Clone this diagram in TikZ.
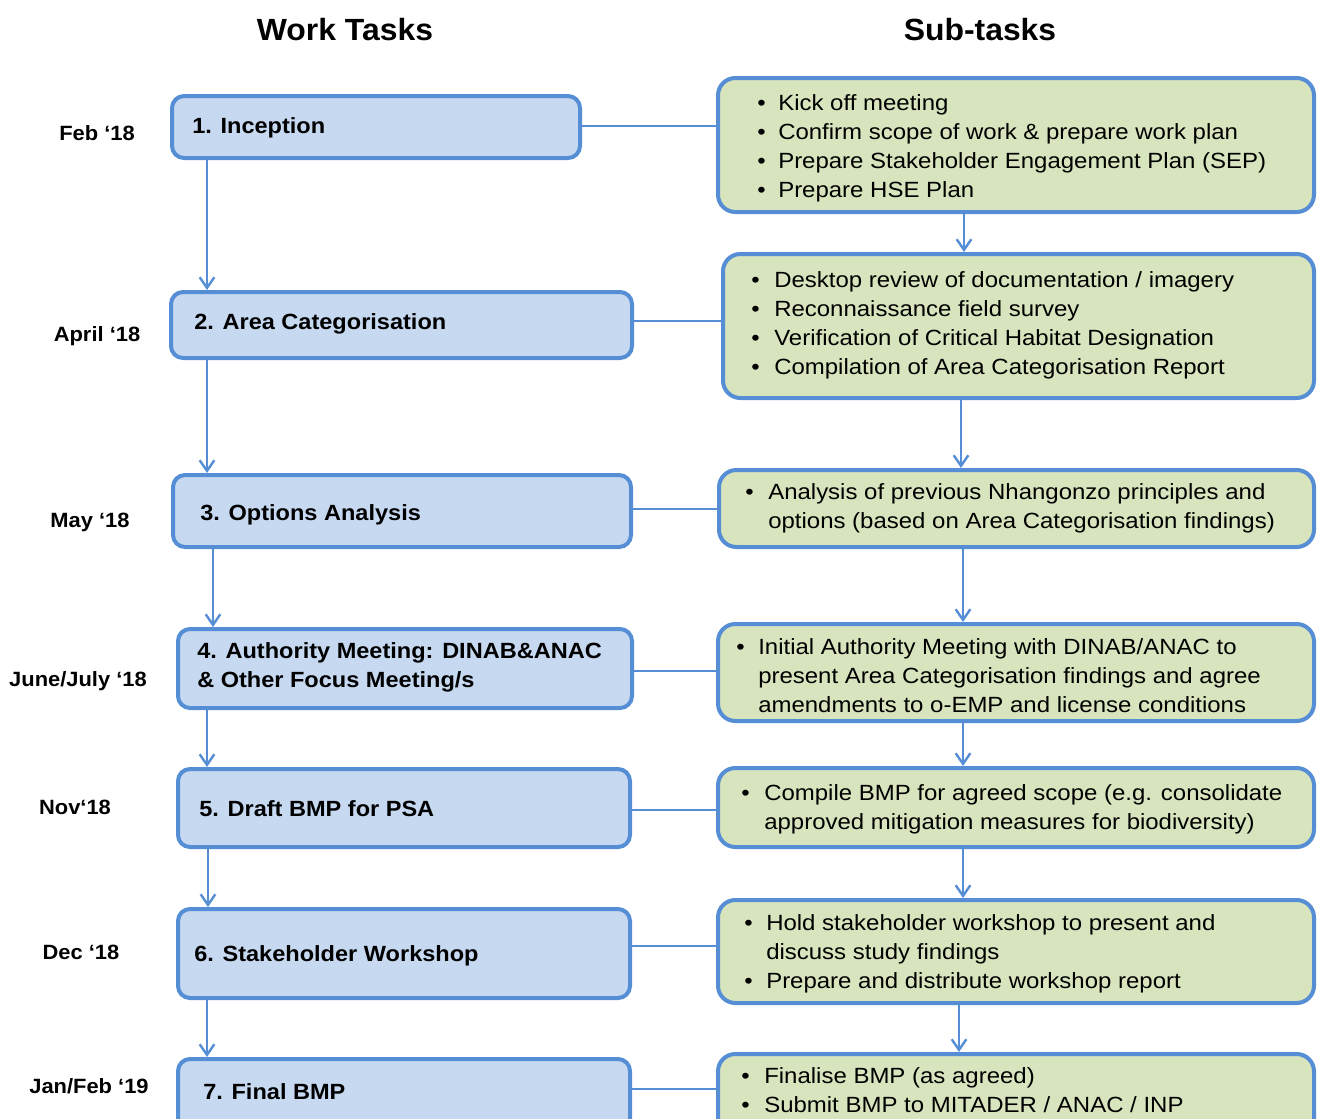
\documentclass[tikz,border=0pt]{standalone}
\usepackage{fontspec}
\setmainfont{Liberation Sans}
\newfontfamily\subfont{Liberation Sans}[FakeStretch=1.09]
\newfontfamily\taskfont{Liberation Sans}[FakeStretch=1.07]
\newfontfamily\datefont{Liberation Sans}[FakeStretch=1.06]
\newfontfamily\headfont{Liberation Sans}[FakeStretch=1.04]
\usetikzlibrary{arrows.meta,fit}
\definecolor{bord}{RGB}{85,142,213}
\definecolor{lfill}{RGB}{198,217,241}
\definecolor{rfill}{RGB}{215,228,189}
\tikzset{
 lbox/.style={draw=bord, fill=lfill, line width=3pt, rounded corners=9pt, inner sep=0pt},
 rbox/.style={draw=bord, fill=rfill, line width=3pt, rounded corners=13pt, inner sep=0pt},
 conn/.style={draw=bord, line width=1.8pt},
 arr/.style={conn, -{Straight Barb[length=8pt,width=11pt,line width=1.8pt]}},
 tasktext/.style={anchor=west, inner sep=0pt, align=left, yshift=-2.25pt, font=\taskfont\fontsize{16.5}{21.75}\selectfont\bfseries},
 datetext/.style={inner sep=0pt, font=\datefont\fontsize{15.5}{18}\selectfont\bfseries},
 headtext/.style={inner sep=0pt, font=\headfont\fontsize{23}{28}\selectfont\bfseries},
 subtext/.style={anchor=west, inner sep=0pt, yshift=-2.25pt, font=\subfont\fontsize{16.5}{21.75}\selectfont},
}
\newcommand{\bl}{\textbullet}
\begin{document}
\begin{tikzpicture}[x=0.75pt,y=-0.75pt]
\useasboundingbox (0,0) rectangle (1317,1118);
\clip (0,0) rectangle (1317,1118);
\fill[white] (0,0) rectangle (1317,1118);

% headings
\node[headtext] (hw) at (345,30) {Work Tasks};
\node[headtext] (hs) at (980,30) {Sub-tasks};

% dates
\node[datetext] (d1) at (97,133) {Feb ‘18};
\node[datetext] (d2) at (97,336) {April ‘18};
\node[datetext] (d3) at (90,522) {May ‘18};
\node[datetext] (d4) at (78,681) {June/July ‘18};
\node[datetext] (d5) at (75,807) {Nov‘18};
\node[datetext] (d6) at (81,952) {Dec ‘18};
\node[datetext] (d7) at (89,1086) {Jan/Feb ‘19};

% left boxes
\node[lbox, fit={(172,96) (580,158)}] (t1) {};
\node[lbox, fit={(171,292) (632,358)}] (t2) {};
\node[lbox, fit={(173,475) (631,547)}] (t3) {};
\node[lbox, fit={(178,629) (632,708)}] (t4) {};
\node[lbox, fit={(178,769) (630,847)}] (t5) {};
\node[lbox, fit={(178,909) (630,998)}] (t6) {};
\node[lbox, fit={(178,1059) (630,1140)}] (t7) {};

\node[tasktext] (tt1) at (192,125) {1. Inception};
\node[tasktext] (tt2) at (194,321) {2. Area Categorisation};
\node[tasktext] (tt3) at (200,512) {3. Options Analysis};
\node[tasktext] (tt4) at (197,664.5) {4. Authority  Meeting: DINAB\&ANAC\\\& Other Focus Meeting/s};
\node[tasktext] (tt5) at (199,806) {5. Draft BMP for PSA};
\node[tasktext] (tt6) at (194,953) {6. Stakeholder Workshop};
\node[tasktext] (tt7) at (203,1089) {7. Final BMP};

% right boxes
\node[rbox, fit={(718,78) (1314,212)}] (s1) {};
\node[rbox, fit={(723,254) (1314,398)}] (s2) {};
\node[rbox, fit={(719,470) (1314,547)}] (s3) {};
\node[rbox, fit={(718,624) (1314,721)}] (s4) {};
\node[rbox, fit={(718,768) (1314,847)}] (s5) {};
\node[rbox, fit={(718,900) (1314,1003)}] (s6) {};
\node[rbox, fit={(718,1054) (1314,1140)}] (s7) {};

\node[subtext] (st1) at (757,145.5) {\begin{tabular}{@{}p{15.75pt}@{}l@{}}
\bl & Kick off meeting\\
\bl & Confirm scope of work \& prepare work plan\\
\bl & Prepare Stakeholder Engagement Plan (SEP)\\
\bl & Prepare HSE Plan
\end{tabular}};
\node[subtext] (st2) at (751,322) {\begin{tabular}{@{}p{17.25pt}@{}l@{}}
\bl & Desktop review of documentation / imagery\\
\bl & Reconnaissance field survey\\
\bl & Verification of Critical Habitat Designation\\
\bl & Compilation of Area Categorisation Report
\end{tabular}};
\node[subtext] (st3) at (745,505) {\begin{tabular}{@{}p{17.25pt}@{}l@{}}
\bl & Analysis of previous Nhangonzo principles and\\
 & options (based on Area Categorisation findings)
\end{tabular}};
\node[subtext] (st4) at (736,675) {\begin{tabular}{@{}p{16.5pt}@{}l@{}}
\bl & Initial Authority Meeting with DINAB/ANAC to\\
 & present Area Categorisation findings and agree\\
 & amendments to o-EMP and license conditions
\end{tabular}};
\node[subtext] (st5) at (741,806) {\begin{tabular}{@{}p{17.25pt}@{}l@{}}
\bl & Compile BMP for agreed scope (e.g. consolidate\\
 & approved mitigation measures for biodiversity)
\end{tabular}};
\node[subtext] (st6) at (744,951) {\begin{tabular}{@{}p{16.5pt}@{}l@{}}
\bl & Hold stakeholder workshop to present and\\
 & discuss study findings\\
\bl & Prepare and distribute workshop report
\end{tabular}};
\node[subtext] (st7) at (741,1089.5) {\begin{tabular}{@{}p{17.25pt}@{}l@{}}
\bl & Finalise BMP (as agreed)\\
\bl & Submit BMP to MITADER / ANAC / INP
\end{tabular}};

% horizontal connectors
\draw[conn] (t1.east |- 0,126) -- (s1.west |- 0,126);
\draw[conn] (t2.east |- 0,321) -- (s2.west |- 0,321);
\draw[conn] (t3.east |- 0,509) -- (s3.west |- 0,509);
\draw[conn] (t4.east |- 0,671) -- (s4.west |- 0,671);
\draw[conn] (t5.east |- 0,810) -- (s5.west |- 0,810);
\draw[conn] (t6.east |- 0,946) -- (s6.west |- 0,946);
\draw[conn] (t7.east |- 0,1089) -- (s7.west |- 0,1089);

% left arrows
\draw[arr] (207,0 |- t1.south) -- (207,0 |- t2.north);
\draw[arr] (207,0 |- t2.south) -- (207,0 |- t3.north);
\draw[arr] (213,0 |- t3.south) -- (213,0 |- t4.north);
\draw[arr] (207,0 |- t4.south) -- (207,0 |- t5.north);
\draw[arr] (208,0 |- t5.south) -- (208,0 |- t6.north);
\draw[arr] (207,0 |- t6.south) -- (207,0 |- t7.north);

% right arrows
\draw[arr] (964,0 |- s1.south) -- (964,0 |- s2.north);
\draw[arr] (961,0 |- s2.south) -- (961,0 |- s3.north);
\draw[arr] (963,0 |- s3.south) -- (963,0 |- s4.north);
\draw[arr] (963,0 |- s4.south) -- (963,0 |- s5.north);
\draw[arr] (963,0 |- s5.south) -- (963,0 |- s6.north);
\draw[arr] (959,0 |- s6.south) -- (959,0 |- s7.north);
\end{tikzpicture}
\end{document}
